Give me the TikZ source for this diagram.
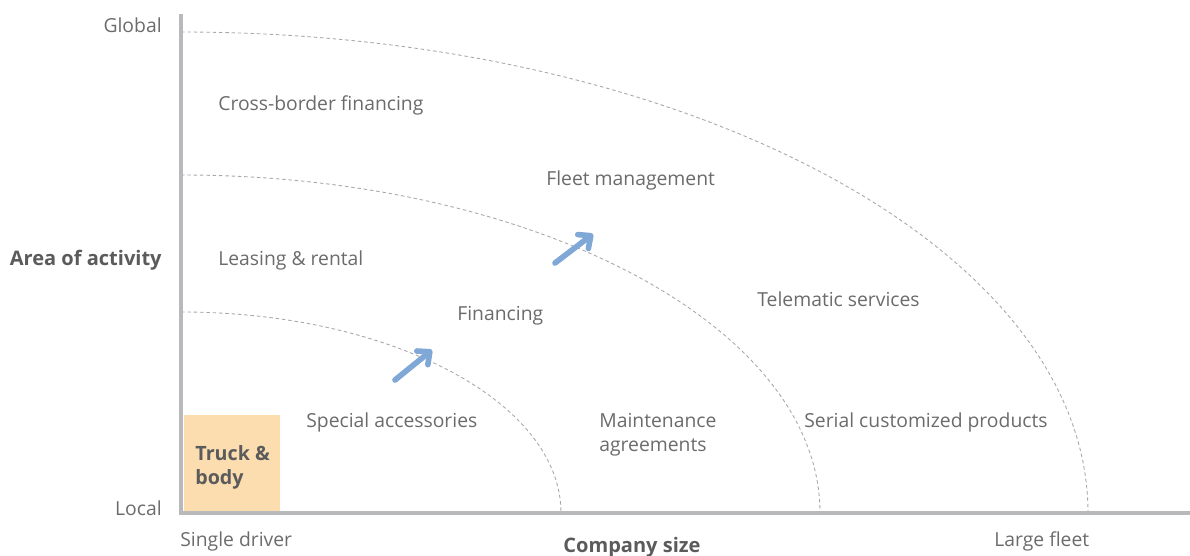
\documentclass[tikz,border=0pt]{standalone}
\usepackage{fontspec}
\setmainfont{Open Sans}
\usetikzlibrary{arrows.meta}

\definecolor{txtgray}{HTML}{6B6B6B}
\definecolor{axisgray}{HTML}{B8B9BB}
\definecolor{ringgray}{HTML}{A8A8A8}
\definecolor{truckfill}{HTML}{FCDDB0}
\definecolor{stepblue}{HTML}{7FA8D6}

\tikzset{
  lbl/.style={font=\fontsize{11}{13.6}\selectfont, text=txtgray, inner sep=0pt, anchor=west},
  axlbl/.style={lbl, anchor=east},
  axtitle/.style={lbl, font=\fontsize{11.4}{13.6}\selectfont\bfseries, text=txtgray!85!black},
  ring/.style={draw=ringgray, dashed, dash pattern=on 2pt off 1.6pt, line width=0.5pt},
  growth/.style={draw=stepblue, line width=3.2pt, line cap=round, -{Straight Barb[length=5.5pt, width=10pt, line cap=round, round]}}
}

\begin{document}
\begin{tikzpicture}[x=0.02cm, y=0.02cm]
  \useasboundingbox (-181,-42) rectangle (1009,513);

  % axes
  \coordinate (origin) at (0,0);
  \coordinate (ytop) at (0,499);
  \coordinate (xend) at (1009,0);

  % three quarter rings, inside out
  \draw[ring] (0,201) arc[start angle=90, end angle=0, x radius=380, y radius=201];
  \draw[ring] (0,338) arc[start angle=90, end angle=0, x radius=639, y radius=338];
  \draw[ring] (0,481) arc[start angle=90, end angle=0, x radius=907, y radius=481];

  \fill[truckfill] (3,2) rectangle (99,98);
  \node[lbl, font=\fontsize{11.2}{13.6}\selectfont\bfseries, text=txtgray!85!black, align=left] (truck) at (14,46) {Truck \&\\body};

  \draw[axisgray, line width=2.2pt] (ytop) -- (origin) -- (xend);

  \node[axlbl] (global) at (-19,488) {Global};
  \node[axlbl] (local) at (-19,5) {Local};
  \node[axtitle, anchor=east] (activity) at (-19,253) {Area of activity};
  \node[lbl] (single) at (-1,-28) {Single driver};
  \node[lbl] (large) at (813,-28) {Large fleet};
  \node[axtitle, anchor=center] (size) at (451,-34) {Company size};

  % services
  \node[lbl] (crossborder) at (37,408) {Cross-border financing};
  \node[lbl] (leasing) at (37,253) {Leasing \& rental};
  \node[lbl] (fleet) at (365,333) {Fleet management};
  \node[lbl] (financing) at (276,197) {Financing};
  \node[lbl] (telematic) at (576,214) {Telematic services};
  \node[lbl] (accessories) at (125,91) {Special accessories};
  \node[lbl, align=left] (maintenance) at (418,78) {Maintenance\\agreements};
  \node[lbl] (serial) at (623,91) {Serial customized products};

  % growth arrows
  \coordinate (g1a) at (214,133);
  \coordinate (g1b) at (251,163);
  \coordinate (g2a) at (374,250);
  \coordinate (g2b) at (412,279);
  \draw[growth] (g1a) -- (g1b);
  \draw[growth] (g2a) -- (g2b);
\end{tikzpicture}
\end{document}
